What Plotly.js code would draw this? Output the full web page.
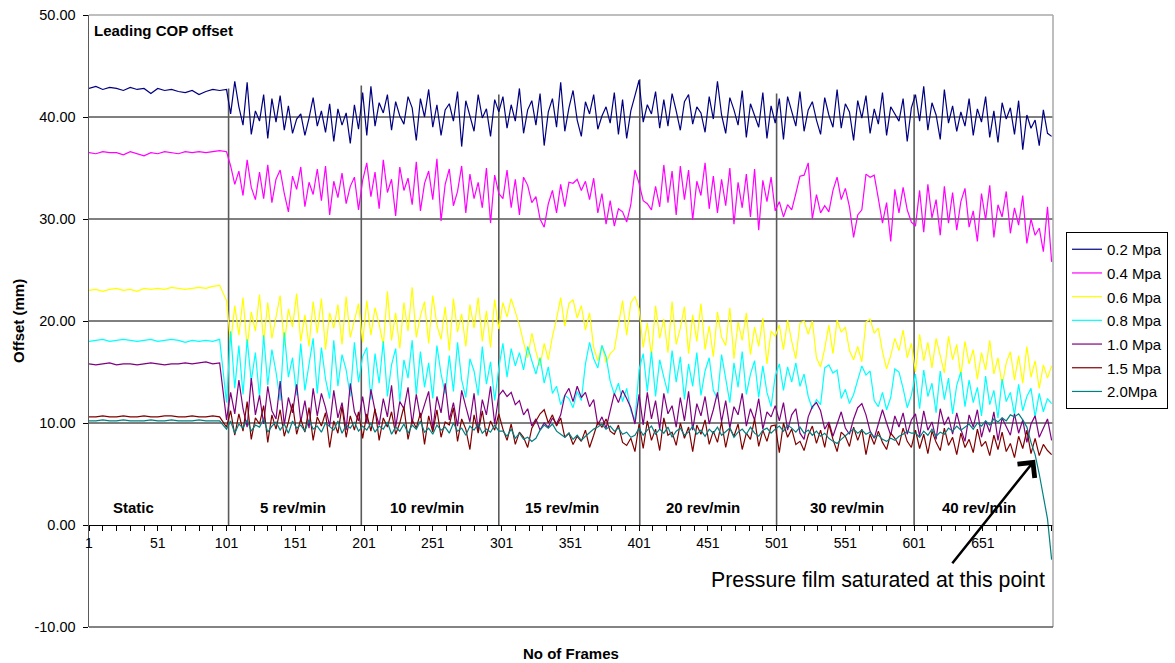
<!DOCTYPE html>
<html>
<head>
<meta charset="utf-8">
<script src="https://cdn.plot.ly/plotly-3.0.1.min.js"></script>
<style>html,body{margin:0;padding:0;background:#fff;}#chart{width:1175px;height:663px;}</style>
</head>
<body>
<div id="chart"></div>
<script>
// ---- data (frame index: static 1..96 step 5, then 101..701 step 3) ----
const seriesNames = ['0.2 Mpa','0.4 Mpa','0.6 Mpa','0.8 Mpa','1.0 Mpa','1.5 Mpa','2.0Mpa'];
const segmentLabels = ['Static','5 rev/min','10 rev/min','15 rev/min','20 rev/min','30 rev/min','40 rev/min'];
const yTickValues = [-10,0,10,20,30,40,50];
const xLabelEvery = 50;
const xLastLabel = 651;

const p02 = [42.8,43.0,42.7,42.9,42.8,42.6,42.9,42.7,42.8,42.3,42.8,42.6,42.7,42.5,42.4,42.6,42.2,42.5,42.7,42.6,
42.7,40.3,43.5,41.0,39.2,43.4,38.3,40.6,39.6,42.2,37.9,41.8,39.5,42.1,38.7,41.1,38.4,39.8,40.3,38.2,39.9,41.9,39.1,40.6,38.5,41.3,37.6,40.8,39.2,40.4,37.4,41.2,38.8,42.4,
38.2,43.0,39.1,41.4,40.4,42.2,38.7,41.5,40.1,39.3,42.0,40.9,37.7,41.8,40.0,42.7,39.0,41.2,38.2,40.7,41.3,39.6,42.5,37.1,41.6,40.2,38.6,42.2,39.9,40.8,38.1,41.7,40.5,
42.0,38.9,41.2,39.6,42.8,38.4,40.7,41.6,39.2,42.3,37.2,40.5,41.8,39.0,43.4,38.6,40.9,42.6,39.7,38.1,41.5,40.3,42.2,38.8,40.1,41.0,39.4,42.4,38.3,41.7,37.9,40.6,42.1,
43.6,39.5,41.2,40.3,42.5,38.9,41.7,39.1,42.3,40.6,38.7,41.5,42.2,39.3,41.0,40.4,38.5,42.0,39.8,43.5,40.2,38.4,41.9,40.7,39.2,42.6,38.0,41.3,40.1,39.0,42.4,37.9,41.1,
39.4,41.8,37.8,42.0,40.6,39.1,42.5,38.6,40.7,41.5,39.7,38.3,41.9,40.2,39.0,42.7,38.9,41.3,40.5,37.7,41.6,39.9,42.1,38.4,40.8,39.3,42.4,38.2,41.0,40.3,39.6,41.8,37.6,40.9,
42.2,39.6,43.0,38.7,41.4,40.2,37.8,42.7,39.4,41.1,38.6,40.5,39.1,41.8,38.2,40.8,39.5,42.0,38.0,40.6,37.5,41.4,39.8,40.9,38.3,41.6,36.8,40.2,38.9,39.7,37.2,40.7,38.4,
38.1];

const p04 = [36.5,36.4,36.6,36.5,36.5,36.3,36.6,36.4,36.2,36.5,36.4,36.6,36.5,36.4,36.6,36.5,36.6,36.5,36.6,36.7,
36.6,35.2,33.4,34.7,32.3,35.8,33.1,31.9,34.6,32.0,35.3,31.6,33.9,34.8,32.5,30.7,34.2,32.9,35.1,31.2,33.6,32.4,34.9,31.8,35.2,30.4,33.7,32.1,34.5,31.5,33.2,34.1,30.9,33.8,
35.5,32.2,34.6,31.0,35.8,32.6,33.9,30.3,35.1,32.8,34.0,31.4,35.6,30.8,33.5,34.7,31.9,35.9,29.8,33.4,34.9,31.3,32.7,35.2,30.6,34.4,32.0,33.6,31.1,35.0,29.6,34.3,32.5,
32.0,34.8,31.1,33.9,30.4,34.1,33.3,31.6,32.2,30.0,29.2,31.5,32.8,30.6,33.4,31.2,33.6,33.5,33.9,32.8,33.7,31.9,34.0,30.6,32.5,29.5,31.8,29.3,31.0,30.7,29.7,31.4,34.8,
33.5,31.8,31.5,30.9,33.2,31.2,35.3,31.6,34.7,30.4,35.2,31.9,34.8,29.9,33.7,32.3,35.5,31.0,34.2,30.6,33.9,31.3,35.0,29.5,33.6,31.1,34.4,30.2,34.9,28.9,33.8,31.7,34.1,
30.8,31.7,30.2,31.4,30.9,32.5,34.2,34.3,35.5,30.0,32.4,30.6,31.3,30.7,32.8,34.1,31.9,33.0,31.2,28.2,30.4,30.9,34.4,34.1,34.3,32.0,29.6,31.6,27.8,32.9,30.6,33.1,30.9,29.7,
29.3,32.8,28.7,33.4,30.1,31.9,28.4,33.2,29.6,32.6,28.9,31.7,33.0,29.2,30.8,27.8,32.5,29.9,33.3,28.2,31.4,30.2,32.7,28.6,31.1,29.4,32.3,27.6,30.0,28.4,29.1,26.8,31.2,
25.8];

const p06 = [23.0,23.1,22.9,23.1,23.2,23.0,23.1,22.9,23.2,23.1,23.2,23.1,23.3,23.2,23.1,23.2,23.3,23.2,23.4,23.5,
22.0,17.8,21.5,18.6,22.3,17.4,20.9,19.0,22.6,17.9,21.8,18.3,20.4,22.5,17.6,21.2,19.4,22.7,18.0,20.6,17.5,21.9,18.8,22.2,17.2,20.8,19.3,21.6,17.7,22.4,18.4,20.1,21.7,17.9,
22.0,18.6,21.3,19.7,17.6,22.9,18.1,20.8,17.3,21.8,19.0,23.3,18.4,20.5,21.9,17.8,22.5,19.6,18.2,21.4,17.1,22.2,18.9,20.7,17.5,21.6,19.3,22.3,18.0,21.0,17.4,22.1,19.2,
21.8,20.4,22.2,21.0,19.6,17.9,16.4,18.8,17.0,15.6,17.8,16.2,18.5,20.2,22.3,19.5,21.7,22.1,20.3,21.5,19.1,20.8,17.4,16.1,17.6,15.9,16.8,17.2,19.7,22.0,18.6,21.8,22.4,
21.2,17.4,19.8,16.6,21.5,18.3,20.2,16.9,21.9,17.7,19.3,21.4,16.8,20.6,18.0,21.7,17.2,19.5,16.5,20.9,18.4,17.6,21.3,16.3,19.9,18.1,20.8,16.7,19.4,17.5,20.3,15.8,19.0,
18.5,19.6,17.2,20.1,18.0,16.3,19.8,20.0,18.7,20.0,16.4,15.5,17.3,19.6,16.8,20.1,18.9,19.4,17.1,16.2,17.5,16.0,19.9,20.2,18.8,19.3,17.0,15.3,16.6,18.3,17.1,19.1,16.4,17.8,
15.0,18.7,16.1,17.9,15.4,18.3,16.6,14.9,18.5,16.2,17.7,14.6,18.0,15.8,17.2,14.3,16.9,15.2,18.1,14.8,16.4,13.7,15.9,17.0,14.2,16.6,13.9,17.5,14.5,16.1,13.4,15.7,14.4,
15.6];

const p08 = [18.0,18.1,18.2,18.0,18.1,18.2,18.1,18.0,18.1,18.2,18.0,18.1,18.2,18.1,17.9,18.1,18.0,18.1,18.0,18.2,
12.0,19.0,13.4,17.6,12.8,18.2,14.1,16.9,12.5,18.6,13.7,17.2,15.0,12.2,18.9,14.5,16.4,12.7,17.8,13.2,16.0,18.3,12.9,17.4,14.3,12.4,18.1,13.6,16.7,15.2,12.6,17.9,14.0,16.5,
17.4,12.3,16.8,13.9,18.0,12.6,15.7,17.3,12.1,16.2,14.4,18.1,12.8,17.0,13.5,15.9,12.4,17.6,14.8,12.9,16.6,13.1,17.9,14.2,12.5,16.3,15.1,12.7,17.5,13.8,16.0,12.2,15.4,
17.8,14.5,17.3,15.6,16.9,15.2,17.5,16.1,14.8,16.4,13.9,15.5,12.9,13.6,11.8,12.7,12.4,11.5,13.1,12.2,15.8,17.9,16.3,15.4,17.6,16.5,14.1,12.8,13.9,12.1,13.4,11.2,10.3,
15.2,16.8,13.1,17.0,12.6,16.2,14.5,12.9,17.1,14.0,16.5,12.3,15.8,13.6,16.9,12.7,15.1,16.4,13.2,12.4,16.7,14.3,12.0,15.9,13.5,17.0,12.8,14.8,16.1,12.5,15.6,13.0,11.6,
14.6,15.8,13.2,15.5,14.0,15.9,13.6,14.8,12.6,11.4,12.3,11.8,15.4,15.7,14.9,15.2,12.4,13.3,11.9,12.8,14.2,15.6,14.7,15.1,12.2,11.6,13.0,11.3,12.5,15.3,15.0,13.4,11.5,12.7,
14.8,11.4,15.2,12.6,13.9,11.0,15.1,12.3,14.4,10.9,13.7,15.0,11.6,14.2,12.0,13.5,10.7,14.6,11.8,13.2,10.5,14.3,12.1,13.0,10.8,13.8,11.2,12.6,13.4,10.6,12.9,11.1,12.4,
11.9];

const p10 = [15.8,15.7,15.8,15.9,15.7,15.8,15.8,15.7,15.8,15.9,15.8,15.7,15.8,15.8,15.9,15.8,15.9,16.0,15.8,15.9,
10.3,13.0,10.9,14.2,11.4,9.6,14.4,10.8,12.7,9.9,13.6,11.2,10.4,14.1,9.8,12.5,11.0,13.8,10.1,12.2,9.5,13.4,10.7,12.9,11.5,9.7,13.2,10.5,12.0,9.3,13.9,11.1,10.2,12.6,
10.0,13.3,11.2,9.8,12.4,10.6,13.7,9.6,12.1,11.4,13.5,9.9,12.8,10.5,11.8,13.1,9.4,12.6,11.0,13.9,10.3,12.0,9.7,13.2,11.6,10.1,12.9,9.2,12.3,10.8,13.6,9.9,12.7,
13.2,12.6,13.0,11.8,12.2,10.8,11.4,9.7,10.4,9.3,10.0,9.6,10.5,9.9,10.8,12.7,13.4,12.1,13.6,12.5,13.0,11.6,12.3,9.8,10.6,9.5,11.2,12.9,12.0,13.2,12.4,11.5,9.9,
12.8,9.8,13.0,10.4,12.2,9.4,12.9,10.9,11.7,9.6,12.5,10.2,13.1,9.3,11.9,10.7,12.6,9.9,11.3,13.0,10.1,12.2,9.5,11.6,10.8,12.9,9.7,11.4,10.3,12.4,9.4,11.1,10.6,
11.7,10.2,12.0,9.3,10.8,11.4,9.0,8.4,10.6,11.6,12.0,11.2,9.4,10.1,8.7,9.8,11.1,9.5,8.9,10.4,11.5,11.9,10.8,9.2,8.5,9.9,11.3,10.0,8.8,10.7,9.6,11.0,8.9,10.3,
10.9,8.7,11.2,9.3,10.1,8.4,11.4,9.8,10.6,8.9,11.0,9.4,8.2,10.8,9.6,11.3,8.6,10.2,9.1,11.1,8.3,10.5,9.7,8.8,10.9,9.0,10.3,8.1,9.9,10.7,8.6,9.5,10.4,
8.3];

const p15 = [10.6,10.6,10.7,10.6,10.6,10.7,10.6,10.6,10.7,10.6,10.6,10.7,10.7,10.6,10.6,10.7,10.6,10.6,10.7,10.6,
9.6,11.2,8.8,10.9,9.2,12.1,8.4,10.5,9.9,11.7,8.1,10.8,9.4,11.3,8.7,10.1,11.9,8.9,10.4,9.1,11.5,8.3,10.6,9.7,11.0,7.6,10.2,9.0,11.6,8.6,10.7,9.3,11.1,8.5,
10.9,9.2,11.4,8.3,10.5,9.6,11.1,8.9,10.0,11.6,8.4,10.3,9.5,11.0,7.9,10.7,9.1,11.3,8.6,10.1,9.8,11.5,8.2,10.4,9.4,7.4,10.8,9.0,11.2,8.7,10.2,9.3,10.9,
9.4,8.3,9.9,7.9,9.1,8.6,7.6,9.5,10.2,10.9,11.3,10.0,10.8,9.7,10.5,8.6,9.0,7.9,8.7,8.2,9.3,7.6,8.8,10.1,9.6,10.4,9.2,8.9,9.8,8.1,7.8,8.5,7.2,
9.9,7.5,10.2,8.3,9.4,7.3,10.5,8.8,9.1,7.8,10.0,8.5,9.6,7.2,9.8,8.9,10.3,7.9,9.2,8.1,10.1,7.6,9.5,8.7,9.9,7.4,9.0,8.4,10.4,7.7,9.3,8.2,9.7,
9.8,7.1,10.0,8.6,9.4,7.9,8.2,7.3,8.8,9.7,8.0,9.3,7.6,9.9,8.4,7.2,9.1,8.7,7.7,9.6,8.3,9.4,6.9,8.9,7.9,9.2,8.1,7.4,9.0,8.5,7.8,9.5,8.2,7.6,
9.3,7.5,8.9,7.0,9.2,8.1,7.3,9.5,7.8,8.6,6.9,9.0,7.6,8.4,7.1,9.4,7.7,8.2,6.8,8.8,7.4,9.1,7.2,8.0,6.6,8.7,7.5,9.3,7.0,8.5,6.8,7.9,7.3,
6.9];

const p20 = [10.2,10.2,10.3,10.2,10.2,10.3,10.2,10.2,10.2,10.3,10.2,10.2,10.3,10.2,10.2,10.2,10.3,10.2,10.2,10.2,
9.4,10.2,9.0,9.9,9.5,10.3,9.2,9.8,9.6,10.4,9.1,9.7,10.1,9.3,9.9,9.0,10.2,9.5,9.8,9.2,10.3,9.4,9.7,9.1,10.0,9.6,9.3,10.2,9.0,9.8,9.5,10.1,9.2,9.7,
9.3,10.0,9.1,9.7,9.4,10.1,8.9,9.6,9.2,9.9,9.0,9.8,9.4,10.2,9.1,9.5,8.9,9.8,9.3,9.6,9.0,10.0,9.2,9.5,8.8,9.7,9.3,9.9,9.0,9.4,9.1,9.8,9.2,
9.2,8.7,9.4,8.5,9.0,8.4,8.6,8.2,8.5,9.3,9.8,9.5,9.9,9.2,8.9,8.6,9.0,8.4,8.8,8.3,8.7,9.1,9.4,9.6,9.9,9.4,9.7,9.2,9.5,8.9,9.1,8.6,8.8,
9.5,8.8,9.3,9.7,8.9,9.4,9.0,9.6,8.6,9.2,9.5,8.8,9.1,9.7,8.9,9.3,8.7,9.4,9.0,9.6,8.8,9.2,9.5,8.6,9.1,9.4,8.9,9.6,9.0,8.7,9.3,9.5,9.0,
9.4,9.7,9.2,9.8,9.5,9.1,9.6,9.0,9.3,8.8,9.2,8.7,9.0,8.5,8.2,8.0,8.4,8.8,9.1,9.4,9.0,9.3,8.9,9.1,8.6,8.8,8.4,8.2,8.5,8.3,8.7,8.9,9.2,9.0,
9.0,8.6,9.2,8.8,9.4,8.7,9.1,8.9,9.5,9.2,9.7,9.3,9.6,9.9,9.4,10.0,9.7,10.2,9.8,10.4,10.1,10.5,10.2,10.8,10.6,10.9,10.3,9.6,8.1,6.9,5.0,2.6,0.6,
-3.4];

// section separator lines (frame, height reached)
const separatorFrames = [102.5, 199, 299, 401.5, 501, 601];
const separatorTops = [42.8, 43.1, 42.2, 43.7, 42.3, 42.2];

const seriesData = [p02, p04, p06, p08, p10, p15, p20];
const seriesColors = ['#000080','#FF00FF','#FFFF00','#00FFFF','#800080','#800000','#008080'];

// ---- frame index for each sample ----
function frameAt(i){ return i < 20 ? 1 + 5*i : 101 + 3*(i-20); }

const traces = [];
const sx = [], sy = [];
separatorFrames.forEach((f,i)=>{ sx.push(f,f,null); sy.push(0,separatorTops[i],null); });
traces.push({x:sx, y:sy, mode:'lines', line:{color:'#5a5a5a', width:1.6}, showlegend:false, hoverinfo:'skip'});

seriesData.forEach((vals,k)=>{
  traces.push({
    x: vals.map((v,i)=>frameAt(i)), y: vals, name: seriesNames[k], legendgroup: seriesNames[k],
    mode:'lines', line:{color:seriesColors[k], width:1.2}, hoverinfo:'skip'
  });
});

// ---- axes ticks ----
const xTickVals = [], xTickText = [];
for (let f = 1; f <= 701; f += 10){
  xTickVals.push(f);
  xTickText.push(((f-1) % xLabelEvery === 0 && f <= xLastLabel) ? String(f) : '');
}

const segLabelX = [33.7, 149.7, 246.8, 345, 447.5, 552, 648];
const FONT = 'Liberation Sans, Arial, Helvetica, sans-serif';

const annotations = segmentLabels.map((t,i)=>({
  x: segLabelX[i], y: 1.75, xref:'x', yref:'y', text:'<b>'+t+'</b>', showarrow:false,
  font:{family:FONT, size:15, color:'black'}, xanchor:'center', yanchor:'middle'
}));
annotations.push({xref:'paper', yref:'paper', x:0, y:1, xanchor:'left', yanchor:'top', xshift:3, yshift:-5,
  text:'<b>Leading COP offset</b>', showarrow:false, font:{family:FONT, size:15, color:'black'}});
annotations.push({xref:'paper', yref:'paper', x:0.5, y:0, xanchor:'center', yanchor:'middle', yshift:-26,
  text:'<b>No of Frames</b>', showarrow:false, font:{family:FONT, size:15, color:'black'}});
annotations.push({xref:'paper', yref:'paper', x:0, y:0.5, xanchor:'center', yanchor:'middle', xshift:-71, textangle:-90,
  text:'<b>Offset (mm)</b>', showarrow:false, font:{family:FONT, size:15, color:'black'}});
annotations.push({xref:'x', yref:'y', x:574.8, y:-5.4, xanchor:'center', yanchor:'middle',
  text:'Pressure film saturated at this point', showarrow:false, font:{family:FONT, size:21.3, color:'black'}});
annotations.push({xref:'x', yref:'y', x:689, y:6.4, ax:-84, ay:105, text:'', showarrow:true,
  arrowhead:4, arrowsize:1.7, arrowwidth:2.5, arrowcolor:'black'});

const shapes = [];
[10,20,30,40].forEach(v=>shapes.push({type:'line', xref:'paper', yref:'y', x0:0, x1:1, y0:v, y1:v, line:{color:'#000', width:1}, layer:'below'}));
shapes.push({type:'line', xref:'paper', yref:'paper', x0:0, x1:1, y0:1, y1:1, line:{color:'#a8a8a8', width:1.5}});
shapes.push({type:'line', xref:'paper', yref:'paper', x0:1, x1:1, y0:0, y1:1, line:{color:'#a8a8a8', width:1.5}});
shapes.push({type:'line', xref:'paper', yref:'paper', x0:0, x1:1, y0:0, y1:0, line:{color:'#5a5a5a', width:1.5}});

const layout = {
  width:1175, height:663,
  margin:{l:89, r:122, t:15, b:36, pad:0, autoexpand:false},
  paper_bgcolor:'#fff', plot_bgcolor:'#fff',
  font:{family:FONT, color:'#000'},
  showlegend:true,
  legend:{xref:'container', yref:'container', x:1066/1175, xanchor:'left', y:1-232/663, yanchor:'top',
    bordercolor:'#000', borderwidth:1, bgcolor:'#fff',
    font:{family:FONT, size:15, color:'#000'}, tracegroupgap:1.2, itemwidth:30},
  xaxis:{range:[1,702], anchor:'free', position:1/6, showline:true, linecolor:'#000', linewidth:1,
    ticks:'outside', ticklen:5, tickwidth:1, tickcolor:'#000', tickmode:'array', tickvals:xTickVals, ticktext:xTickText,
    showgrid:false, zeroline:false, tickfont:{family:FONT, size:14, color:'#000'}},
  yaxis:{range:[-10,50], tickmode:'array', tickvals:yTickValues, ticktext:yTickValues.map(v=>v.toFixed(2)),
    ticks:'outside', ticklen:5, tickwidth:1, tickcolor:'#000', showgrid:false, zeroline:false,
    showline:true, linecolor:'#5a5a5a', linewidth:1.5, ticklabelstandoff:4,
    tickfont:{family:FONT, size:14.5, color:'#000'}},
  shapes, annotations, hovermode:false
};

Plotly.newPlot('chart', traces, layout, {staticPlot:true, displayModeBar:false});
</script>
</body>
</html>
